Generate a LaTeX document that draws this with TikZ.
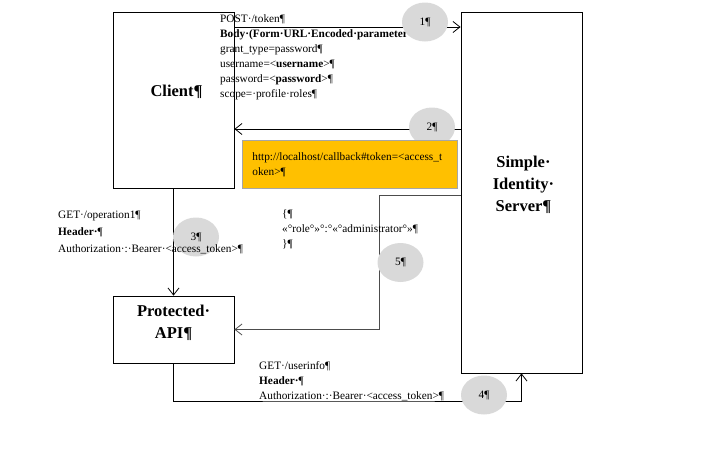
\documentclass[tikz,border=0pt]{standalone}
\usepackage{fontspec}
\setmainfont[Ligatures=NoCommon]{Liberation Serif}
\usetikzlibrary{shapes.geometric}
\usetikzlibrary{positioning}
\usetikzlibrary{arrows.meta}
\definecolor{tokenfill}{RGB}{255,192,0}
\definecolor{stepgray}{RGB}{217,217,217}
\tikzset{
    party/.style = {rectangle, draw=black, line width=0.8pt, inner sep=0pt},
    partyname/.style = {align=center, inner sep=0pt, font=\fontsize{16.5}{22}\selectfont\bfseries},
    msg/.style = {anchor=north west, align=left, inner sep=0pt, font=\fontsize{11.3}{15}\selectfont},
    stepnum/.style = {ellipse, fill=stepgray, minimum width=46pt, minimum height=39pt, inner sep=0pt, font=\fontsize{11.3}{15}\selectfont},
    tokenbox/.style = {rectangle, draw=black!35, line width=0.8pt, fill=tokenfill, anchor=north west, minimum width=215pt, minimum height=48pt, text width=195pt, inner xsep=10pt, align=left, font=\fontsize{11.3}{15}\selectfont},
    edgen/.style = {-{Straight Barb[length=7pt,width=11pt]}, line width=0.8pt},
    edgeg/.style = {-{Straight Barb[length=7pt,width=11pt]}, line width=0.8pt, black!70}
}
\begin{document}
\begin{tikzpicture}[x=1pt,y=-1pt]
\useasboundingbox (0,0) rectangle (713,466);
%
\node[party, minimum width=121pt, minimum height=176pt] at (173.5,100) (client) {};
\node[party, minimum width=121pt, minimum height=67pt] at (173.5,329.5) (api) {};
\node[party, minimum width=121pt, minimum height=361pt] at (521.5,192.5) (ids) {};
\node[partyname] at ([xshift=3pt,yshift=8pt]client.center) (clientname) {Client¶};
\node[partyname] at ([yshift=7pt]api.center) (apiname) {Protected·\\API¶};
\node[partyname] at ([xshift=2pt,yshift=8pt]ids.center) (idsname) {Simple·\\Identity·\\Server¶};
%
\coordinate (h1) at (0,27);
\coordinate (h2) at (0,129);
\coordinate (t5) at (379,195);
\coordinate (b4) at (350,401);
\draw[edgen] (h1 -| client.east) -- (h1 -| ids.west);
\draw[edgen] (h2 -| ids.west) -- (h2 -| client.east);
\draw[edgen] (client) -- (api);
\draw[edgeg] (t5 -| ids.west) -- (t5) |- (api.east);
\draw[edgen] (api.south) |- (b4) -| (ids.south);
%
\node[stepnum] at (196,237) (s3) {3¶};
%
\node[msg] at (220,14) (req1) {POST·/token¶\\\textbf{Body·(Form·URL·Encoded·parameter}\\grant\_type=password¶\\username=<\textbf{username}>¶\\password=<\textbf{password}>¶\\scope=·profile·roles¶};
\node[msg, font=\fontsize{11.3}{17}\selectfont] at (58,211) (req3) {GET·/operation1¶\\\textbf{Header·}¶\\Authorization·:·Bearer·<access\_token>¶};
\node[msg] at (282,209) (resp5) {\{¶\\«°role°»°:°«°administrator°»¶\\\}¶};
\node[msg] at (259,361) (req4) {GET·/userinfo¶\\\textbf{Header·}¶\\Authorization·:·Bearer·<access\_token>¶};
%
\node[stepnum] at (425,22) (s1) {1¶};
\node[stepnum] at (432,127) (s2) {2¶};
\node[stepnum] at (484,395) (s4) {4¶};
\node[stepnum] at (400.5,262.5) (s5) {5¶};
%
\node[tokenbox] at (242,140) (token) {http://localhost/callback\#token=<access\_t\\oken>¶};

\end{tikzpicture}
\end{document}
